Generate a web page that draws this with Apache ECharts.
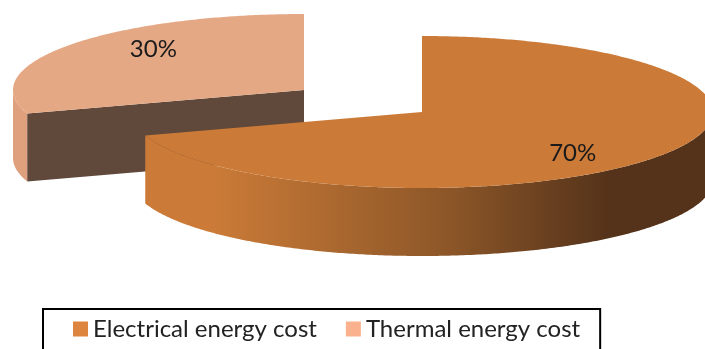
<!DOCTYPE html>
<html>
<head>
<meta charset="utf-8">
<style>html,body{margin:0;padding:0;background:#fff}#chart{width:705px;height:349px}</style>
<script src="https://cdn.jsdelivr.net/npm/echarts@6/dist/echarts.min.js"></script>
</head>
<body>
<div id="chart"></div>
<script>
// Cost shares
const categories = ['Electrical energy cost', 'Thermal energy cost'];
const shares = [70, 30];
const totalShare = shares.reduce((a, b) => a + b, 0);

// Flattened-disc projection shared by both exploded slices
const RX = 291, RY = 76, DEPTH = 68;
const centres = [[422, 112], [304, 90]];
const topColors = ['#CB7A37', '#E5A885'];
const legendColors = ['#DD853F', '#F9B28D'];
const outerWallColor = '#DFA07E';
const innerWallColor = '#60483A';

const chart = echarts.init(document.getElementById('chart'));

// Point on the rim; angle runs clockwise from twelve o'clock, in radians
function rim(c, a, dy) {
  return [c[0] + RX * Math.sin(a), c[1] - RY * Math.cos(a) + (dy || 0)];
}
function arc(c, a0, a1, dy) {
  const n = Math.max(2, Math.ceil(Math.abs(a1 - a0) / 0.01));
  const pts = [];
  for (let i = 0; i <= n; i++) pts.push(rim(c, a0 + (a1 - a0) * i / n, dy));
  return pts;
}

// Front wall fill: orange on the left, darkening towards the right
const frontWallFill = new echarts.graphic.LinearGradient(145, 0, 713, 0, [
  { offset: 0, color: '#CB7B37' },
  { offset: 0.12, color: '#CB7B37' },
  { offset: 0.537, color: '#8C5628' },
  { offset: 0.813, color: '#55331A' },
  { offset: 1, color: '#55331A' }
], true);

function sliceRenderer(index, startShare) {
  return function (params, api) {
    const c = centres[index];
    const value = api.value(0);
    const a0 = startShare / totalShare * 2 * Math.PI;
    const a1 = a0 + value / totalShare * 2 * Math.PI;
    const children = [];

    // Outer wall: only the stretch of rim facing the viewer
    const f0 = Math.max(a0, Math.PI / 2), f1 = Math.min(a1, 3 * Math.PI / 2);
    if (f1 > f0) {
      const pts = arc(c, f0, f1, 0).concat(arc(c, f1, f0, DEPTH));
      children.push({
        type: 'polygon',
        shape: { points: pts },
        style: { fill: index === 0 ? frontWallFill : outerWallColor }
      });
    }
    // Cut face running from the centre to the rim, when turned to the viewer
    if (index === 1) {
      const tip = rim(c, a0);
      children.push({
        type: 'polygon',
        shape: { points: [tip, c, [c[0], c[1] + DEPTH], [tip[0], tip[1] + DEPTH]] },
        style: { fill: innerWallColor }
      });
    }
    // Top face
    children.push({
      type: 'polygon',
      shape: { points: [c].concat(arc(c, a0, a1, 0)) },
      style: { fill: topColors[index] }
    });
    // Percentage label at the middle of the slice
    const mid = (a0 + a1) / 2;
    children.push({
      type: 'text',
      style: {
        text: Math.round(value / totalShare * 100) + '%',
        x: c[0] + 0.64 * RX * Math.sin(mid),
        y: c[1] - 0.92 * RY * Math.cos(mid),
        font: '24px Lato',
        fill: '#1a1a1a',
        align: 'center',
        verticalAlign: 'middle'
      }
    });
    return { type: 'group', children: children };
  };
}

chart.setOption({
  animation: false,
  backgroundColor: '#fff',
  legend: {
    left: 43,
    top: 309,
    data: categories,
    icon: 'rect',
    itemWidth: 15,
    itemHeight: 15,
    itemGap: 29,
    padding: [8, 20, 16, 30],
    borderColor: '#000',
    borderWidth: 2,
    selectedMode: false,
    textStyle: { fontFamily: 'Lato', fontSize: 24, color: '#222', padding: [0, 0, 0, 0] }
  },
  series: [
    {
      type: 'custom', name: categories[0], coordinateSystem: 'none', z: 3,
      itemStyle: { color: legendColors[0] },
      renderItem: sliceRenderer(0, 0),
      data: [shares[0]]
    },
    {
      type: 'custom', name: categories[1], coordinateSystem: 'none', z: 2,
      itemStyle: { color: legendColors[1] },
      renderItem: sliceRenderer(1, shares[0]),
      data: [shares[1]]
    }
  ]
});
</script>
</body>
</html>
